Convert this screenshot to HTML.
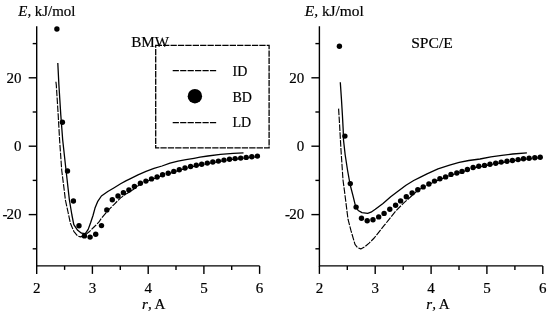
<!DOCTYPE html>
<html><head><meta charset="utf-8"><style>
html,body{margin:0;padding:0;background:#fff;}
svg{display:block;font-family:"Liberation Serif",serif;will-change:transform;}
text{stroke:#000;stroke-width:0.2px;}
</style></head><body>
<svg width="550" height="313" viewBox="0 0 550 313">
<path d="M36.7,26.3 V265.9 H259.6" fill="none" stroke="#000" stroke-width="1.4"/>
<line x1="32.7" y1="43.6" x2="36.7" y2="43.6" stroke="#000" stroke-width="1.4"/>
<line x1="28.7" y1="77.8" x2="36.7" y2="77.8" stroke="#000" stroke-width="1.4"/>
<line x1="32.7" y1="112.0" x2="36.7" y2="112.0" stroke="#000" stroke-width="1.4"/>
<line x1="28.7" y1="146.2" x2="36.7" y2="146.2" stroke="#000" stroke-width="1.4"/>
<line x1="32.7" y1="180.4" x2="36.7" y2="180.4" stroke="#000" stroke-width="1.4"/>
<line x1="28.7" y1="214.6" x2="36.7" y2="214.6" stroke="#000" stroke-width="1.4"/>
<line x1="32.7" y1="248.8" x2="36.7" y2="248.8" stroke="#000" stroke-width="1.4"/>
<line x1="36.7" y1="265.9" x2="36.7" y2="273.9" stroke="#000" stroke-width="1.4"/>
<line x1="64.6" y1="265.9" x2="64.6" y2="269.9" stroke="#000" stroke-width="1.4"/>
<line x1="92.4" y1="265.9" x2="92.4" y2="273.9" stroke="#000" stroke-width="1.4"/>
<line x1="120.3" y1="265.9" x2="120.3" y2="269.9" stroke="#000" stroke-width="1.4"/>
<line x1="148.2" y1="265.9" x2="148.2" y2="273.9" stroke="#000" stroke-width="1.4"/>
<line x1="176.0" y1="265.9" x2="176.0" y2="269.9" stroke="#000" stroke-width="1.4"/>
<line x1="203.9" y1="265.9" x2="203.9" y2="273.9" stroke="#000" stroke-width="1.4"/>
<line x1="231.7" y1="265.9" x2="231.7" y2="269.9" stroke="#000" stroke-width="1.4"/>
<line x1="259.6" y1="265.9" x2="259.6" y2="273.9" stroke="#000" stroke-width="1.4"/>
<path d="M319.4,26.3 V265.9 H542.8" fill="none" stroke="#000" stroke-width="1.4"/>
<line x1="315.4" y1="43.6" x2="319.4" y2="43.6" stroke="#000" stroke-width="1.4"/>
<line x1="311.4" y1="77.8" x2="319.4" y2="77.8" stroke="#000" stroke-width="1.4"/>
<line x1="315.4" y1="112.0" x2="319.4" y2="112.0" stroke="#000" stroke-width="1.4"/>
<line x1="311.4" y1="146.2" x2="319.4" y2="146.2" stroke="#000" stroke-width="1.4"/>
<line x1="315.4" y1="180.4" x2="319.4" y2="180.4" stroke="#000" stroke-width="1.4"/>
<line x1="311.4" y1="214.6" x2="319.4" y2="214.6" stroke="#000" stroke-width="1.4"/>
<line x1="315.4" y1="248.8" x2="319.4" y2="248.8" stroke="#000" stroke-width="1.4"/>
<line x1="319.4" y1="265.9" x2="319.4" y2="273.9" stroke="#000" stroke-width="1.4"/>
<line x1="347.3" y1="265.9" x2="347.3" y2="269.9" stroke="#000" stroke-width="1.4"/>
<line x1="375.2" y1="265.9" x2="375.2" y2="273.9" stroke="#000" stroke-width="1.4"/>
<line x1="403.2" y1="265.9" x2="403.2" y2="269.9" stroke="#000" stroke-width="1.4"/>
<line x1="431.1" y1="265.9" x2="431.1" y2="273.9" stroke="#000" stroke-width="1.4"/>
<line x1="459.0" y1="265.9" x2="459.0" y2="269.9" stroke="#000" stroke-width="1.4"/>
<line x1="486.9" y1="265.9" x2="486.9" y2="273.9" stroke="#000" stroke-width="1.4"/>
<line x1="514.9" y1="265.9" x2="514.9" y2="269.9" stroke="#000" stroke-width="1.4"/>
<line x1="542.8" y1="265.9" x2="542.8" y2="273.9" stroke="#000" stroke-width="1.4"/>
<text x="36.7" y="293.2" font-size="15" text-anchor="middle" >2</text>
<text x="92.4" y="293.2" font-size="15" text-anchor="middle" >3</text>
<text x="148.2" y="293.2" font-size="15" text-anchor="middle" >4</text>
<text x="203.9" y="293.2" font-size="15" text-anchor="middle" >5</text>
<text x="259.6" y="293.2" font-size="15" text-anchor="middle" >6</text>
<text x="21.5" y="82.8" font-size="15" text-anchor="end" >20</text>
<text x="21.5" y="151.2" font-size="15" text-anchor="end" >0</text>
<text x="21.5" y="218.7" font-size="15" text-anchor="end" >-<tspan dx="-0.9">20</tspan></text>
<text x="319.4" y="293.2" font-size="15" text-anchor="middle" >2</text>
<text x="375.2" y="293.2" font-size="15" text-anchor="middle" >3</text>
<text x="431.1" y="293.2" font-size="15" text-anchor="middle" >4</text>
<text x="486.9" y="293.2" font-size="15" text-anchor="middle" >5</text>
<text x="542.8" y="293.2" font-size="15" text-anchor="middle" >6</text>
<text x="304.2" y="82.8" font-size="15" text-anchor="end" >20</text>
<text x="304.2" y="151.2" font-size="15" text-anchor="end" >0</text>
<text x="304.2" y="218.7" font-size="15" text-anchor="end" >-<tspan dx="-0.9">20</tspan></text>
<text x="18.3" y="15.6" font-size="14.9"><tspan font-style="italic">E</tspan>, kJ/mol</text>
<text x="304.8" y="15.6" font-size="15.4"><tspan font-style="italic">E</tspan>, kJ/mol</text>
<text x="142.1" y="309" font-size="15"><tspan font-style="italic">r</tspan>, A</text>
<text x="426.3" y="309" font-size="15"><tspan font-style="italic">r</tspan>, A</text>
<text x="131.2" y="47.2" font-size="15.2">BMW</text>
<text x="411.2" y="47.6" font-size="15.6">SPC/E</text>
<rect x="155.7" y="45.4" width="113.4" height="102.4" fill="none" stroke="#000" stroke-width="1.3" stroke-dasharray="6.3 1.1"/>
<line x1="172.7" y1="70.6" x2="216.4" y2="70.6" stroke="#000" stroke-width="1.4" stroke-dasharray="6.2 1.25"/>
<line x1="172.7" y1="122.6" x2="216.4" y2="122.6" stroke="#000" stroke-width="1.4" stroke-dasharray="6.2 1.25"/>
<circle cx="194.9" cy="96.2" r="7.2"/>
<text x="232.5" y="75.9" font-size="14">ID</text>
<text x="232.5" y="101.5" font-size="14">BD</text>
<text x="232.5" y="127.4" font-size="14">LD</text>
<polyline points="57.8,63.0 58.9,85.0 60.8,115.0 62.7,140.0 66.0,170.0 69.4,200.0 71.9,215.0 73.8,224.6 77.7,230.3 81.5,233.2 85.3,233.7 88.2,229.4 90.6,222.7 93.0,215.5 95.0,208.1 97.6,201.7 101.4,196.0 107.8,191.5 114.2,187.7 120.6,183.8 126.3,180.6 130.0,178.8 138.0,174.8 146.0,171.3 154.0,168.4 162.0,166.0 170.0,163.1 178.0,161.2 186.0,159.6 194.0,158.3 200.0,157.2 207.8,156.0 220.5,154.4 233.3,153.4 243.5,152.8" fill="none" stroke="#000" stroke-width="1.3" stroke-linejoin="round"/>
<polyline points="55.9,81.8 56.3,85.0 58.2,115.0 59.6,140.0 61.7,170.0 64.2,190.0 65.4,200.0 68.0,212.0 70.5,223.6 73.8,231.3 77.7,236.1 80.5,236.9 84.4,235.6 89.2,231.8 94.0,227.0 98.8,222.2 101.4,218.3 107.8,210.7 114.2,204.3 120.6,197.9 127.0,193.4 133.3,189.6 140.4,183.9 145.9,181.7 151.5,179.5 157.1,177.6 162.6,175.4 168.2,173.9 173.8,172.0 179.3,170.3 185.0,168.6 190.6,167.1 196.3,165.8 201.7,164.8 207.3,163.7 212.8,162.6 218.4,161.7 224.0,160.7 229.5,159.8 235.1,159.2 240.7,158.7 246.2,158.0 251.8,157.3 257.4,156.7" fill="none" stroke="#000" stroke-width="1.15" stroke-dasharray="6.6 1.3" stroke-linejoin="round"/>
<circle cx="56.9" cy="29.0" r="2.7"/>
<circle cx="62.4" cy="122.2" r="2.7"/>
<circle cx="67.5" cy="171.0" r="2.7"/>
<circle cx="73.4" cy="201.0" r="2.7"/>
<circle cx="79.0" cy="225.7" r="2.7"/>
<circle cx="84.4" cy="235.9" r="2.7"/>
<circle cx="90.1" cy="237.1" r="2.7"/>
<circle cx="95.7" cy="234.2" r="2.7"/>
<circle cx="101.5" cy="225.6" r="2.7"/>
<circle cx="106.8" cy="210.0" r="2.7"/>
<circle cx="112.3" cy="199.8" r="2.7"/>
<circle cx="118.0" cy="196.0" r="2.7"/>
<circle cx="123.4" cy="192.8" r="2.7"/>
<circle cx="128.9" cy="190.0" r="2.7"/>
<circle cx="134.4" cy="186.4" r="2.7"/>
<circle cx="140.4" cy="183.3" r="2.7"/>
<circle cx="145.9" cy="181.1" r="2.7"/>
<circle cx="151.5" cy="178.9" r="2.7"/>
<circle cx="157.1" cy="177.0" r="2.7"/>
<circle cx="162.6" cy="174.8" r="2.7"/>
<circle cx="168.2" cy="173.3" r="2.7"/>
<circle cx="173.8" cy="171.4" r="2.7"/>
<circle cx="179.3" cy="169.7" r="2.7"/>
<circle cx="185.0" cy="168.0" r="2.7"/>
<circle cx="190.6" cy="166.5" r="2.7"/>
<circle cx="196.3" cy="165.2" r="2.7"/>
<circle cx="201.7" cy="164.2" r="2.7"/>
<circle cx="207.3" cy="163.1" r="2.7"/>
<circle cx="212.8" cy="162.0" r="2.7"/>
<circle cx="218.4" cy="161.1" r="2.7"/>
<circle cx="224.0" cy="160.1" r="2.7"/>
<circle cx="229.5" cy="159.2" r="2.7"/>
<circle cx="235.1" cy="158.6" r="2.7"/>
<circle cx="240.7" cy="158.1" r="2.7"/>
<circle cx="246.2" cy="157.4" r="2.7"/>
<circle cx="251.8" cy="156.7" r="2.7"/>
<circle cx="257.4" cy="156.1" r="2.7"/>
<polyline points="340.3,82.2 341.5,100.0 342.4,115.0 343.2,130.0 343.5,140.0 345.2,155.0 347.5,170.0 350.2,185.0 352.9,195.3 355.4,205.6 358.2,210.5 362.0,212.6 367.7,213.3 371.0,212.2 375.3,209.3 383.0,203.5 390.7,196.8 398.3,191.1 406.0,185.3 413.7,180.5 420.0,177.3 427.0,173.8 438.0,168.8 449.6,165.1 459.2,162.4 468.8,160.5 480.0,159.0 490.9,156.9 501.8,155.3 512.7,154.0 526.9,152.9" fill="none" stroke="#000" stroke-width="1.3" stroke-linejoin="round"/>
<polyline points="338.6,108.6 339.6,125.0 341.0,150.0 343.0,180.0 344.6,192.0 346.3,205.6 348.0,219.2 351.0,230.7 355.0,244.4 357.6,247.6 360.8,248.9 364.6,247.0 369.1,243.1 374.2,238.0 379.3,231.6 384.4,225.2 389.5,218.8 396.4,210.3 404.1,202.6 411.8,195.8 417.8,190.3 423.2,187.5 428.9,184.6 434.5,181.7 439.9,179.4 445.6,177.5 451.0,175.0 456.8,173.6 462.0,172.0 467.4,170.1 473.1,168.1 478.8,166.8 484.5,166.0 490.0,164.8 495.7,163.8 501.2,162.7 507.0,161.9 512.4,161.1 518.1,160.2 523.5,159.4 529.1,158.9 534.8,158.3 540.2,157.8" fill="none" stroke="#000" stroke-width="1.15" stroke-dasharray="6.6 1.3" stroke-linejoin="round"/>
<circle cx="339.4" cy="46.3" r="2.7"/>
<circle cx="344.9" cy="136.1" r="2.7"/>
<circle cx="350.3" cy="183.6" r="2.7"/>
<circle cx="356.1" cy="207.1" r="2.7"/>
<circle cx="361.5" cy="218.2" r="2.7"/>
<circle cx="367.2" cy="220.7" r="2.7"/>
<circle cx="373.0" cy="219.7" r="2.7"/>
<circle cx="378.7" cy="216.9" r="2.7"/>
<circle cx="384.1" cy="213.4" r="2.7"/>
<circle cx="389.8" cy="209.2" r="2.7"/>
<circle cx="395.6" cy="205.2" r="2.7"/>
<circle cx="400.6" cy="200.9" r="2.7"/>
<circle cx="406.3" cy="196.8" r="2.7"/>
<circle cx="412.1" cy="193.0" r="2.7"/>
<circle cx="417.8" cy="189.7" r="2.7"/>
<circle cx="423.2" cy="186.9" r="2.7"/>
<circle cx="428.9" cy="184.0" r="2.7"/>
<circle cx="434.5" cy="181.1" r="2.7"/>
<circle cx="439.9" cy="178.8" r="2.7"/>
<circle cx="445.6" cy="176.9" r="2.7"/>
<circle cx="451.0" cy="174.4" r="2.7"/>
<circle cx="456.8" cy="173.0" r="2.7"/>
<circle cx="462.0" cy="171.4" r="2.7"/>
<circle cx="467.4" cy="169.5" r="2.7"/>
<circle cx="473.1" cy="167.5" r="2.7"/>
<circle cx="478.8" cy="166.2" r="2.7"/>
<circle cx="484.5" cy="165.4" r="2.7"/>
<circle cx="490.0" cy="164.2" r="2.7"/>
<circle cx="495.7" cy="163.2" r="2.7"/>
<circle cx="501.2" cy="162.1" r="2.7"/>
<circle cx="507.0" cy="161.3" r="2.7"/>
<circle cx="512.4" cy="160.5" r="2.7"/>
<circle cx="518.1" cy="159.6" r="2.7"/>
<circle cx="523.5" cy="158.8" r="2.7"/>
<circle cx="529.1" cy="158.3" r="2.7"/>
<circle cx="534.8" cy="157.7" r="2.7"/>
<circle cx="540.2" cy="157.2" r="2.7"/>
</svg>
</body></html>
